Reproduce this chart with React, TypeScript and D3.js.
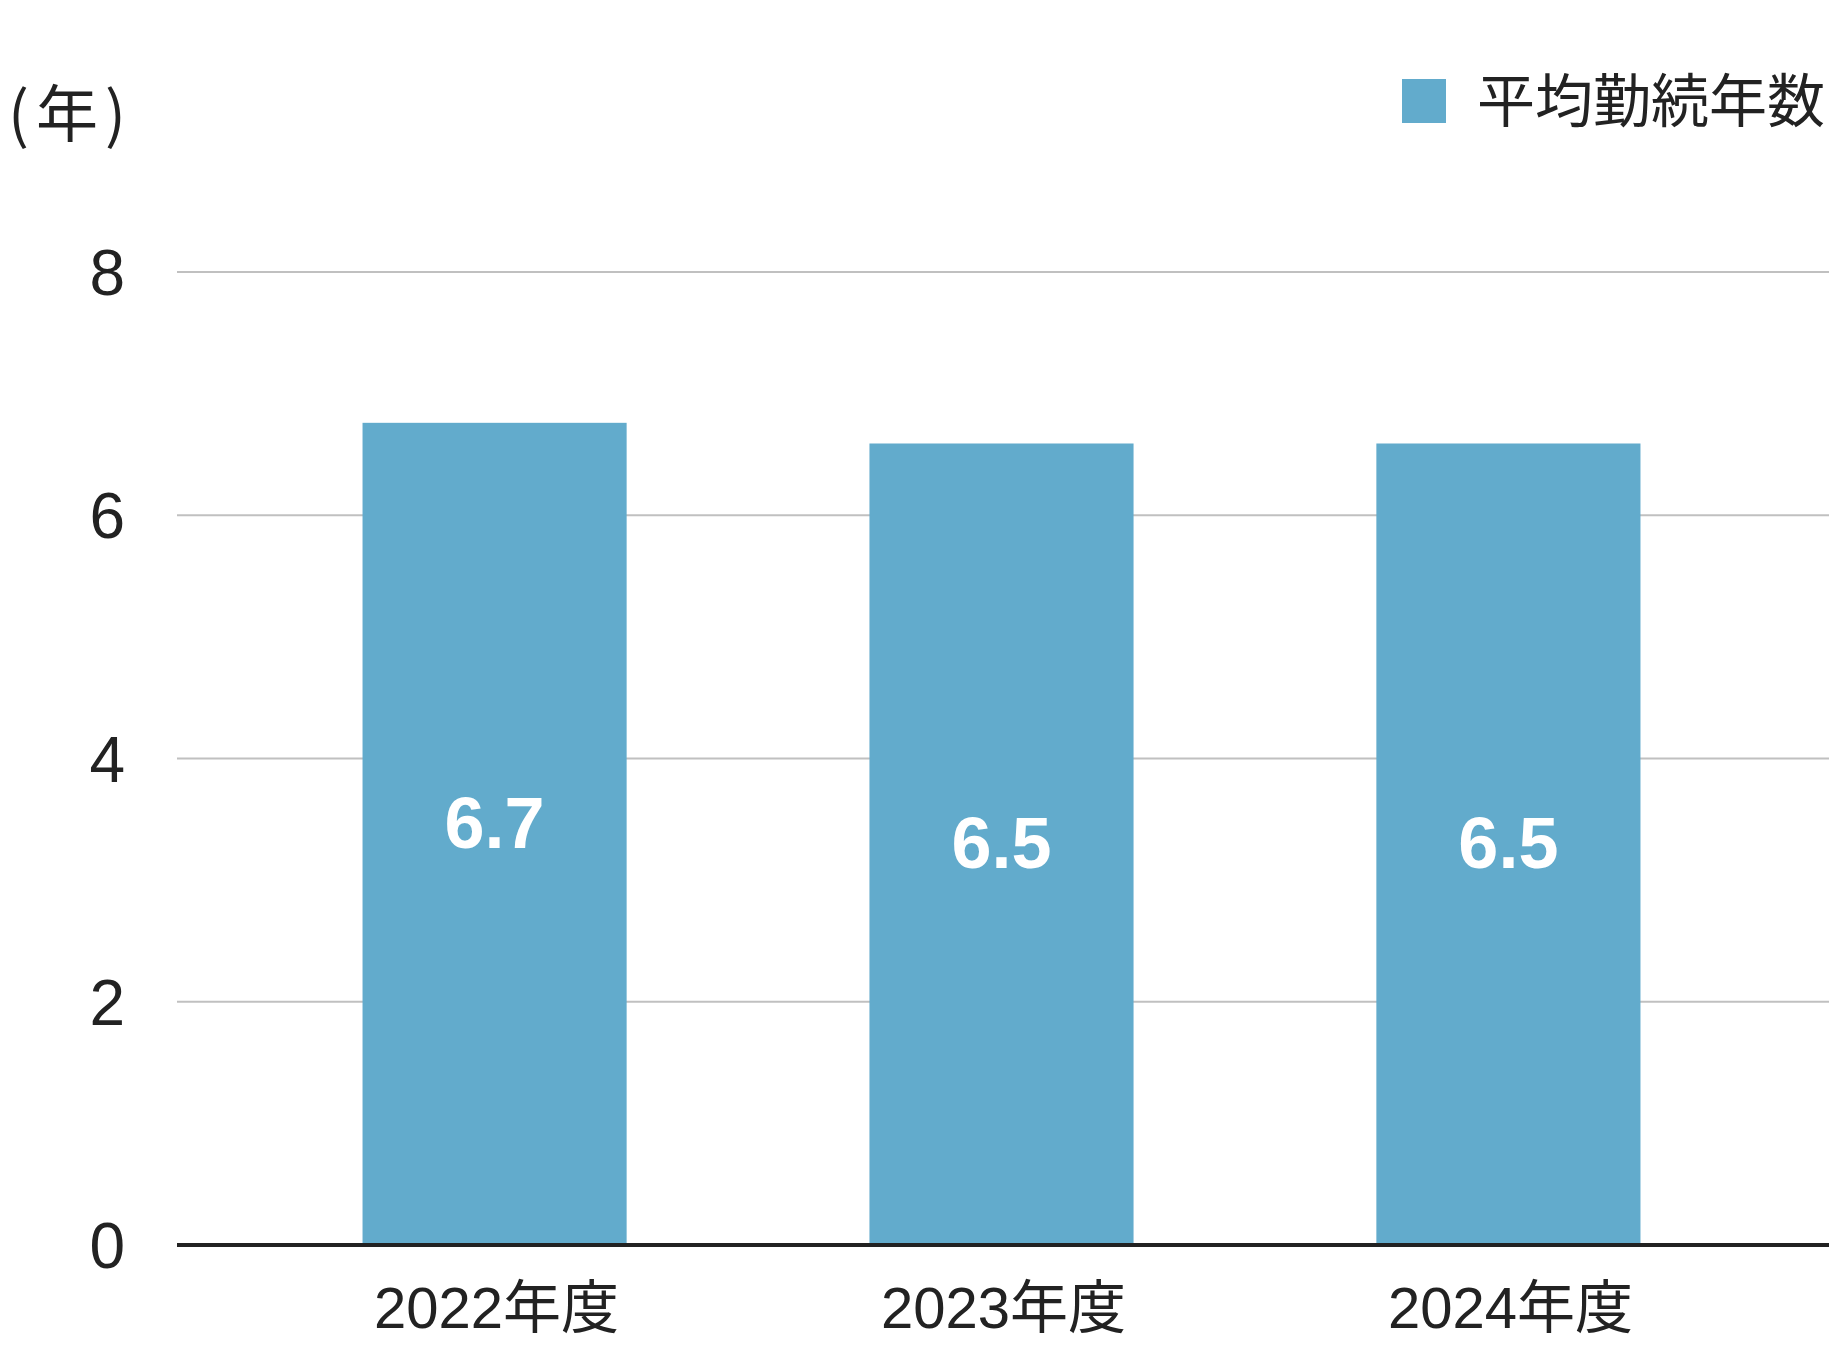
import React from "react";
import * as d3 from "d3";

const categories = ["2022年度", "2023年度", "2024年度"];
const values = [6.76, 6.59, 6.59];
const valueLabels = ["6.7", "6.5", "6.5"];
const yTicks = [0, 2, 4, 6, 8];
const seriesName = "平均勤続年数";
const unitParts = ["(", "年", ")"];

const W = 1829;
const H = 1361;
const BAR = "#62abcc";
const INK = "#222222";
const FONT = "'Liberation Sans', 'Noto Sans CJK JP', sans-serif";
const CJK = "'Noto Sans CJK JP', sans-serif";

export default function App() {
  const x = d3
    .scaleBand<string>()
    .domain(categories)
    .range([177, 1826])
    .paddingInner(0.479)
    .paddingOuter(0.366);
  const y = d3.scaleLinear().domain([0, 8]).range([1245, 272]);

  return (
    <svg
      width={W}
      height={H}
      style={{ position: "absolute", left: 0, top: 0, display: "block", background: "#fff" }}
    >
      {/* unit label */}
      <text x={8} y={137} fontFamily={CJK} fontSize={62} fill={INK}>
        <tspan>{unitParts[0]}</tspan>
        <tspan dx={7}>{unitParts[1]}</tspan>
        <tspan dx={7}>{unitParts[2]}</tspan>
      </text>

      {/* legend */}
      <rect x={1402} y={79} width={44} height={44} fill={BAR} />
      <text x={1477} y={122} fontFamily={CJK} fontSize={58} fill={INK}>
        {seriesName}
      </text>

      {/* gridlines */}
      {yTicks
        .filter((t) => t !== 0)
        .map((t) => (
          <line
            key={t}
            x1={177}
            x2={W}
            y1={y(t)}
            y2={y(t)}
            stroke="#c0c0c0"
            strokeWidth={2}
          />
        ))}

      {/* y tick labels */}
      {yTicks.map((t) => (
        <text
          key={"t" + t}
          x={125}
          y={y(t) + 23}
          textAnchor="end"
          fontFamily={FONT}
          fontSize={64}
          fill={INK}
        >
          {t}
        </text>
      ))}

      {/* bars */}
      {categories.map((c, i) => (
        <rect
          key={c}
          x={x(c)}
          y={y(values[i])}
          width={x.bandwidth()}
          height={y(0) - y(values[i])}
          fill={BAR}
        />
      ))}

      {/* value labels */}
      {categories.map((c, i) => (
        <text
          key={"v" + c}
          x={(x(c) as number) + x.bandwidth() / 2}
          y={y(values[i]) + 425}
          textAnchor="middle"
          fontFamily={FONT}
          fontWeight="bold"
          fontSize={72}
          fill="#ffffff"
        >
          {valueLabels[i]}
        </text>
      ))}

      {/* x axis line */}
      <line x1={177} x2={W} y1={y(0)} y2={y(0)} stroke={INK} strokeWidth={4} />

      {/* x labels */}
      {categories.map((c) => (
        <text
          key={"x" + c}
          x={(x(c) as number) + x.bandwidth() / 2 + 2}
          y={1328}
          textAnchor="middle"
          fontFamily={FONT}
          fontSize={58}
          fill={INK}
        >
          {c}
        </text>
      ))}
    </svg>
  );
}
